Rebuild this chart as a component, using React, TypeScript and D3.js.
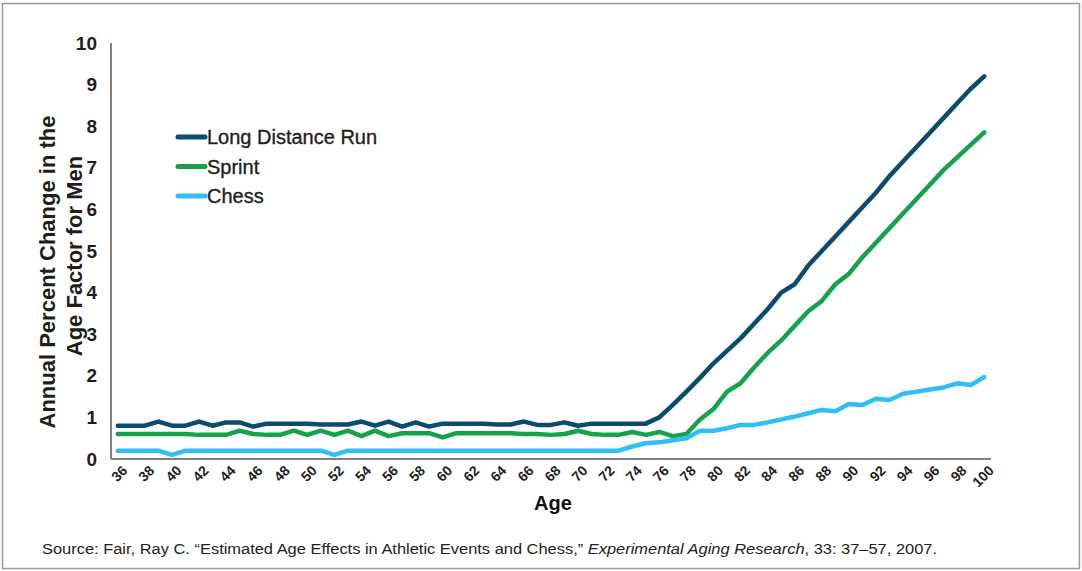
import * as d3 from 'd3';

const ages = d3.range(36, 101);

const longDistance = [
  0.8, 0.8, 0.8, 0.9, 0.8, 0.8, 0.9, 0.8, 0.88, 0.88, 0.78, 0.85, 0.85, 0.85, 0.85, 0.83, 0.83,
  0.83, 0.9, 0.8, 0.9, 0.78, 0.88, 0.78, 0.85, 0.85, 0.85, 0.85, 0.83, 0.83, 0.9, 0.82, 0.82,
  0.88, 0.8, 0.85, 0.85, 0.85, 0.85, 0.85, 1.0, 1.3, 1.62, 1.95, 2.3, 2.6, 2.9, 3.25, 3.6, 4.0,
  4.2, 4.65, 5.0, 5.35, 5.7, 6.05, 6.4, 6.8, 7.15, 7.5, 7.85, 8.2, 8.55, 8.9, 9.2,
];

const sprint = [
  0.6, 0.6, 0.6, 0.6, 0.6, 0.6, 0.58, 0.58, 0.58, 0.68, 0.6, 0.58, 0.58, 0.68, 0.58, 0.68, 0.58,
  0.68, 0.55, 0.68, 0.55, 0.62, 0.62, 0.62, 0.52, 0.62, 0.62, 0.62, 0.62, 0.62, 0.6, 0.6, 0.58,
  0.6, 0.68, 0.6, 0.58, 0.58, 0.65, 0.58, 0.65, 0.55, 0.6, 0.95, 1.2, 1.62, 1.82, 2.2, 2.55, 2.85,
  3.2, 3.55, 3.8, 4.2, 4.45, 4.85, 5.2, 5.55, 5.9, 6.25, 6.6, 6.95, 7.25, 7.55, 7.85,
];

const chess = [
  0.2, 0.2, 0.2, 0.2, 0.1, 0.2, 0.2, 0.2, 0.2, 0.2, 0.2, 0.2, 0.2, 0.2, 0.2, 0.2, 0.1, 0.2, 0.2,
  0.2, 0.2, 0.2, 0.2, 0.2, 0.2, 0.2, 0.2, 0.2, 0.2, 0.2, 0.2, 0.2, 0.2, 0.2, 0.2, 0.2, 0.2, 0.2,
  0.3, 0.38, 0.4, 0.45, 0.5, 0.68, 0.68, 0.74, 0.82, 0.82, 0.88, 0.95, 1.02, 1.1, 1.18, 1.15, 1.32,
  1.3, 1.45, 1.42, 1.57, 1.62, 1.67, 1.72, 1.82, 1.78, 1.97,
];

const series = [
  { name: 'Long Distance Run', values: longDistance, color: '#0c4a6e' },
  { name: 'Sprint', values: sprint, color: '#16a24a' },
  { name: 'Chess', values: chess, color: '#2ebff5' },
];

const yTicks = d3.range(0, 11);
const xTickAges = ages.filter(a => a % 2 === 0);

const W = 1082;
const H = 571;
const plot = { left: 111, right: 991, top: 43, bottom: 459 };
const font = 'Liberation Sans, Arial, sans-serif';

export default function App() {
  const x = d3
    .scaleBand<number>()
    .domain(ages)
    .range([plot.left, plot.right]);
  const cx = (a: number) => (x(a) ?? 0) + x.bandwidth() / 2;
  const y = d3.scaleLinear().domain([0, 10]).range([plot.bottom, plot.top]);

  const line = d3
    .line<number>()
    .x((_, i) => cx(ages[i]))
    .y(d => y(d));

  return (
    <svg
      width={W}
      height={H}
      style={{ position: 'absolute', left: 0, top: 0, background: '#fff' }}
      fontFamily={font}
    >
      <rect x={2.5} y={3.5} width={W - 5} height={H - 6} fill="none" stroke="#9a9a9a" strokeWidth={1.5} />

      {/* axes */}
      <line x1={plot.left} x2={plot.left} y1={plot.top} y2={plot.bottom} stroke="#808080" strokeWidth={2} />
      <line x1={plot.left} x2={plot.right} y1={plot.bottom} y2={plot.bottom} stroke="#808080" strokeWidth={2} />

      {yTicks.map(t => (
        <text
          key={t}
          x={97}
          y={y(t)}
          dy="0.35em"
          textAnchor="end"
          fontSize={19}
          fontWeight="bold"
          fill="#1e1e1e"
        >
          {t}
        </text>
      ))}

      {xTickAges.map(a => (
        <text
          key={a}
          transform={`translate(${cx(a) + 7},${plot.bottom + 9}) rotate(-45)`}
          textAnchor="end"
          dy="0.35em"
          fontSize={14}
          fontWeight="bold"
          fill="#1e1e1e"
        >
          {a}
        </text>
      ))}

      {/* lines */}
      {series.map(s => (
        <path
          key={s.name}
          d={line(s.values) ?? ''}
          fill="none"
          stroke={s.color}
          strokeWidth={4.5}
          strokeLinejoin="round"
          strokeLinecap="round"
        />
      ))}

      {/* legend */}
      {series.map((s, i) => (
        <g key={s.name} transform={`translate(178,${137 + i * 29.5})`}>
          <line x1={0} x2={27} y1={0} y2={0} stroke={s.color} strokeWidth={5} strokeLinecap="round" />
          <text
            x={29}
            y={0}
            dy="0.36em"
            fontSize={20}
            fill="#1e1e1e"
            stroke="#1e1e1e"
            strokeWidth={0.35}
          >
            {s.name}
          </text>
        </g>
      ))}

      {/* axis titles */}
      <text
        transform="translate(55,272) rotate(-90)"
        textAnchor="middle"
        fontSize={22}
        fontWeight="bold"
        fill="#1e1e1e"
      >
        Annual Percent Change in the
      </text>
      <text
        transform="translate(82,256) rotate(-90)"
        textAnchor="middle"
        fontSize={22}
        fontWeight="bold"
        fill="#1e1e1e"
      >
        Age Factor for Men
      </text>
      <text x={553} y={510} textAnchor="middle" fontSize={20} fontWeight="bold" fill="#111">
        Age
      </text>

      <text x={42} y={554} fontSize={14} fill="#222" textLength={895} lengthAdjust="spacingAndGlyphs">
        Source:  Fair, Ray C. “Estimated Age Effects in Athletic Events and Chess,”{' '}
        <tspan fontStyle="italic">Experimental Aging Research</tspan>, 33: 37–57, 2007.
      </text>
    </svg>
  );
}
